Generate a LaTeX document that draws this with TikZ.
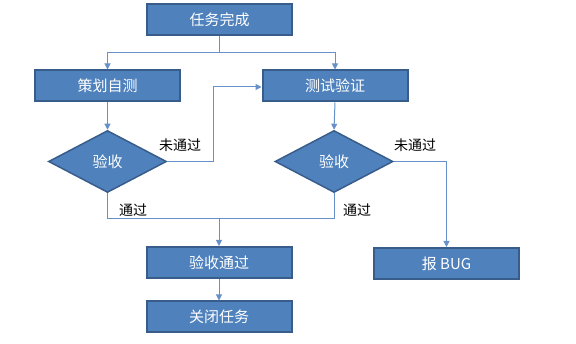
\documentclass[tikz,border=0pt]{standalone}
\usepackage{fontspec}
\newfontfamily\cjk{Noto Sans CJK SC}
\usetikzlibrary{shapes.geometric,arrows.meta}
\definecolor{boxfill}{HTML}{4F81BD}
\definecolor{boxedge}{HTML}{385D8A}
\definecolor{linec}{HTML}{6690C8}
\begin{document}
\begin{tikzpicture}[x=1pt,y=-1pt,
  box/.style={draw=boxedge,line width=2pt,fill=boxfill,minimum width=145pt,minimum height=31pt,inner sep=0pt,text=white,font=\cjk\fontsize{15}{17}\selectfont},
  dia/.style={diamond,aspect=1.9,draw=boxedge,line width=1.5pt,fill=boxfill,minimum width=118pt,minimum height=62pt,inner sep=0pt,text=white,font=\cjk\fontsize{15}{17}\selectfont},
  conn/.style={draw=linec,line width=1pt},
  arr/.style={conn,-{Triangle[width=6pt,length=6pt]}},
  lbl/.style={font=\cjk\fontsize{14}{16}\selectfont,text=black,inner sep=0pt}]
\useasboundingbox (0,0) rectangle (576,344);
\node[box] (task) at (219.5,20) {任务完成};
\node[box] (plan) at (107.5,86) {策划自测};
\node[box] (test) at (335,86) {测试验证};
\node[dia] (d1) at (107.5,161.5) {验收};
\node[dia] (d2) at (334,161.5) {验收};
\node[box] (bug) at (446.5,263.5) {报 BUG};
\node[box] (pass) at (219,262.5) {验收通过};
\node[box] (close) at (219,317) {关闭任务};
\coordinate (j1) at (219.5,52.5);
\coordinate (j2) at (219,219);
\draw[conn] (task.south) -- (j1);
\draw[arr] (j1) -| (plan.north);
\draw[arr] (j1) -| (test.north);
\draw[arr] (plan.south) -- (d1.north);
\draw[arr] (test.south) -- (d2.north);
\draw[arr] (d1.east) -| (213,87) -- (test.west |- 0,87);
\draw[conn] (d1.south) |- (j2);
\draw[conn] (d2.south) |- (j2);
\draw[arr] (j2) -- (pass.north);
\draw[arr] (d2.east) -| (bug.north);
\draw[arr] (pass.south) -- (close.north);
\node[lbl] (l1) at (180,145) {未通过};
\node[lbl] (l2) at (133,210) {通过};
\node[lbl] (l3) at (415,145) {未通过};
\node[lbl] (l4) at (357,210) {通过};
\end{tikzpicture}
\end{document}
